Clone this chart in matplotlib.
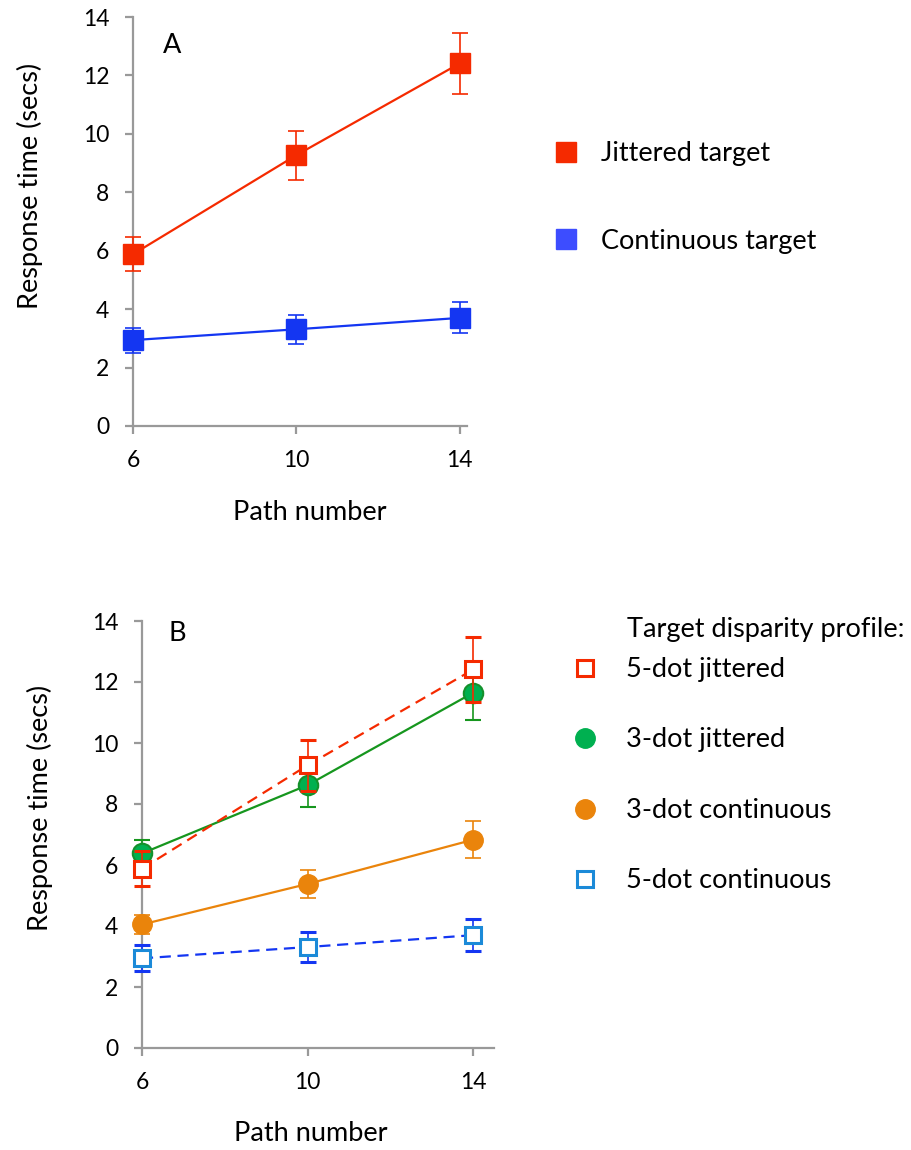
import matplotlib
matplotlib.use("Agg")
import matplotlib.pyplot as plt
from matplotlib.lines import Line2D

# data
paths = [6, 10, 14]

# panel A
jit_mean = [5.88, 9.27, 12.41]
jit_err = [0.58, 0.84, 1.05]
cont_mean = [2.94, 3.31, 3.70]
cont_err = [0.43, 0.49, 0.53]

# panel B (5-dot series are the panel A series)
jit3_mean = [6.38, 8.62, 11.65]
jit3_err = [0.43, 0.73, 0.90]
cont3_mean = [4.05, 5.38, 6.83]
cont3_err = [0.30, 0.45, 0.60]

yticks = [0, 2, 4, 6, 8, 10, 12, 14]

plt.rcParams["font.family"] = ["Lato", "DejaVu Sans"]
FS = 19.5   # labels / legend
TFS = 16.5  # tick labels

W, H = 911, 1150
fig = plt.figure(figsize=(W / 100, H / 100), dpi=100)

def px_axes(x0, y0, x1, y1):
    return fig.add_axes([x0 / W, 1 - y1 / H, (x1 - x0) / W, (y1 - y0) / H])

def style(ax, xmax, xlab_pos, ylab_pos):
    ax.set_xlim(6, xmax)
    ax.set_ylim(0, 14)
    ax.set_xticks(paths)
    ax.set_yticks(yticks)
    for s in ["top", "right"]:
        ax.spines[s].set_visible(False)
    for s in ["left", "bottom"]:
        ax.spines[s].set_color("#999999")
        ax.spines[s].set_linewidth(1.6)
    ax.tick_params(direction="out", length=6, width=1.6, color="#999999",
                   labelsize=TFS)
    ax.tick_params(axis="x", pad=11)
    ax.tick_params(axis="y", pad=11)
    ax.set_xlabel("Path number", fontsize=FS)
    ax.set_ylabel("Response time (secs)", fontsize=FS)
    ax.xaxis.set_label_coords(*xlab_pos)
    ax.yaxis.set_label_coords(*ylab_pos)

RED = "#f52a00"
BLUE = "#1436f2"

# ---- panel A ----
axA = px_axes(133, 17, 467, 426)
axA.errorbar(paths, jit_mean, yerr=jit_err, color=RED, lw=1.6, marker="s",
             ms=14, capsize=6, elinewidth=1.2, capthick=1.2, clip_on=False, zorder=3)
axA.errorbar(paths, cont_mean, yerr=cont_err, color=BLUE, lw=1.6, marker="s",
             ms=14, capsize=6, elinewidth=1.2, capthick=1.2, clip_on=False, zorder=3)
style(axA, 14.18, (0.53, -0.18), (-0.27, 0.586))
axA.text(0.09, 0.93, "A", transform=axA.transAxes, fontsize=FS, va="center")

handlesA = [Line2D([], [], marker="s", ls="none", color=RED, ms=15),
            Line2D([], [], marker="s", ls="none", color="#3d4dff", ms=15)]
fig.legend(handlesA, ["Jittered target", "Continuous target"],
           loc="upper left", bbox_to_anchor=(552.5 / W, 1 - 141 / H),
           frameon=False, fontsize=FS, handlelength=1.0, handletextpad=0.79,
           labelspacing=2.31, borderpad=0, borderaxespad=0)

# ---- panel B ----
GREEN = "#00b050"
ORANGE = "#ea840b"
LBLUE = "#1b8ad8"
axB = px_axes(142, 621, 494, 1048)
axB.errorbar(paths, cont_mean, yerr=cont_err, color=BLUE, lw=1.6, ls=(0, (5, 3)),
             marker="s", ms=12, mfc="white", mec=LBLUE, mew=2.2,
             capsize=6, elinewidth=1.2, capthick=1.2, clip_on=False, zorder=3)
axB.errorbar(paths, cont3_mean, yerr=cont3_err, color=ORANGE, lw=1.6,
             marker="o", ms=14, mec=ORANGE, capsize=6, elinewidth=1.2,
             capthick=1.2, clip_on=False, zorder=3)
axB.errorbar(paths, jit3_mean, yerr=jit3_err, color="#16961e", lw=1.6,
             marker="o", ms=14, mfc=GREEN, mec="#14912c", mew=1.5, capsize=6,
             elinewidth=1.2, capthick=1.2, clip_on=False, zorder=3)
axB.errorbar(paths, jit_mean, yerr=jit_err, color=RED, lw=1.6, ls=(0, (5, 3)),
             marker="s", ms=12, mfc="white", mec=RED, mew=2.2,
             capsize=6, elinewidth=1.2, capthick=1.2, clip_on=False, zorder=4)
style(axB, 14.5, (0.48, -0.17), (-0.253, 0.562))
axB.text(0.074, 0.97, "B", transform=axB.transAxes, fontsize=FS, va="center")

fig.text(627 / W, 1 - 629 / H, "Target disparity profile:", fontsize=FS,
         va="center", ha="left")
handlesB = [Line2D([], [], marker="s", ls="none", mfc="white", mec=RED, mew=2.2, ms=12),
            Line2D([], [], marker="o", ls="none", color=GREEN, ms=14),
            Line2D([], [], marker="o", ls="none", color=ORANGE, ms=14),
            Line2D([], [], marker="s", ls="none", mfc="white", mec=LBLUE, mew=2.2, ms=12)]
fig.legend(handlesB, ["5-dot jittered", "3-dot jittered", "3-dot continuous",
                      "5-dot continuous"],
           loc="upper left", bbox_to_anchor=(571.5 / W, 1 - 657 / H),
           frameon=False, fontsize=FS, handlelength=1.0, handletextpad=1.01,
           labelspacing=1.68, borderpad=0, borderaxespad=0)

fig.savefig("out.png", dpi=100)
